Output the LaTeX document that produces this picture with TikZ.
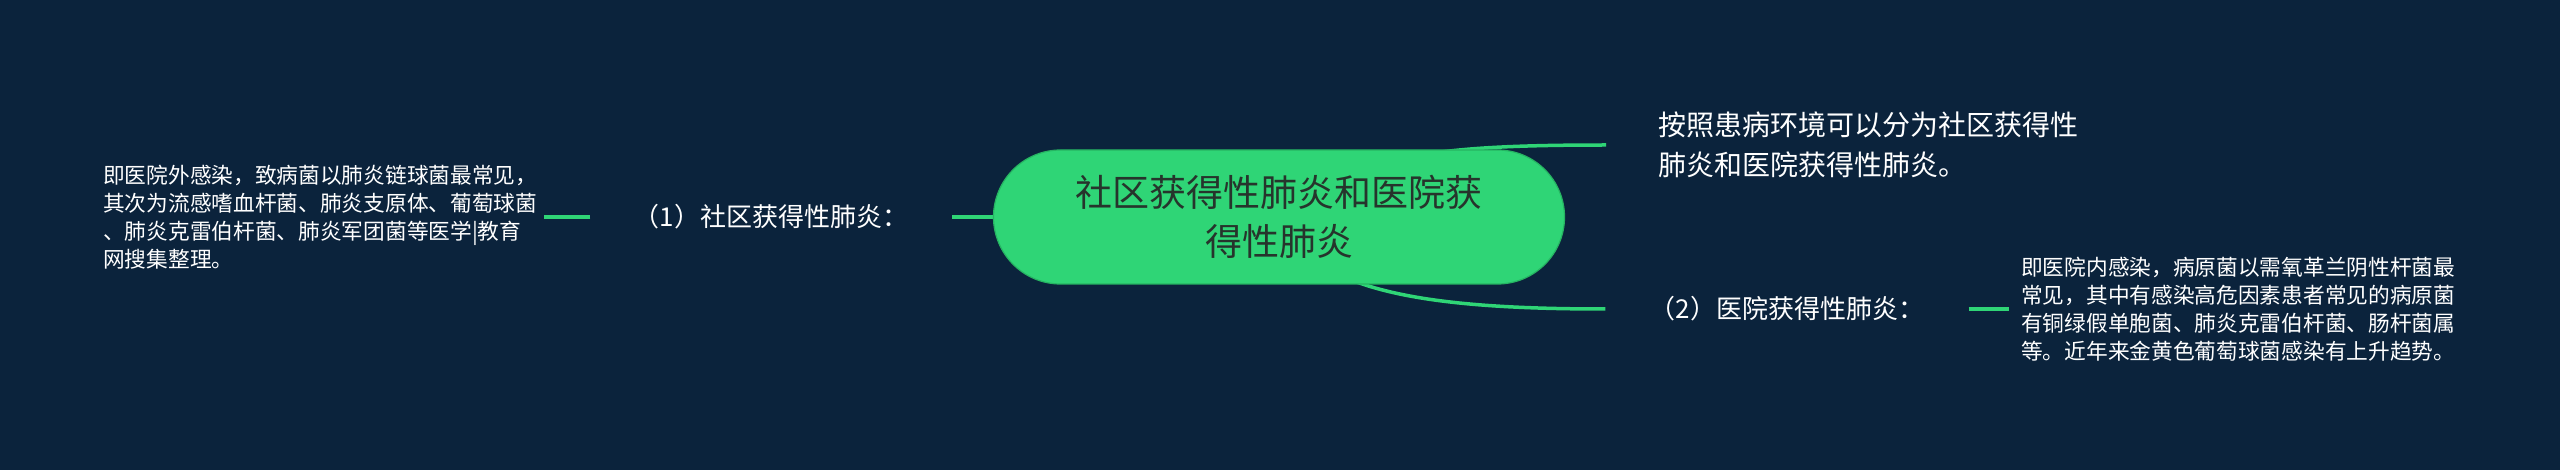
\documentclass[tikz,border=0pt]{standalone}
\usepackage{fontspec}
\setmainfont{Noto Sans CJK SC}
\usetikzlibrary{calc}
\definecolor{bgc}{RGB}{11,35,60}
\definecolor{grn}{RGB}{47,213,118}
\definecolor{grnd}{RGB}{38,180,98}
\definecolor{ctext}{RGB}{38,52,44}
\pgfdeclarelayer{bg}
\pgfsetlayers{bg,main}
\begin{document}
\begin{tikzpicture}[x=1pt,y=-1pt,
  conn/.style={draw=grn, line width=3.5pt},
  rootbox/.style={fill=grn, draw=grnd, line width=1.2pt, rounded corners=67pt, minimum width=571pt, minimum height=134pt, inner sep=0pt, align=center, text=ctext, font=\fontsize{37}{49}\selectfont},
  subtopic/.style={text=white, inner sep=0pt, font=\fontsize{26}{32}\selectfont},
  toptext/.style={text=white, inner ysep=0pt, align=left, font=\fontsize{28}{40}\selectfont},
  para/.style={text=white, inner ysep=0pt, align=left, font=\fontsize{21.7}{27.8}\selectfont}]
\useasboundingbox (0,0) rectangle (2560,470);
\node[rootbox] (root) at (1279,217) {社区获得性肺炎和医院获\\得性肺炎};
\node[subtopic, minimum width=361pt] (n1) at (771,217) {（1）社区获得性肺炎：};
\node[para, anchor=west, inner xsep=7pt] (p1) at (96,217) {即医院外感染，致病菌以肺炎链球菌最常见，\\其次为流感嗜血杆菌、肺炎支原体、葡萄球菌\\、肺炎克雷伯杆菌、肺炎军团菌等医学|教育\\网搜集整理。};
\node[toptext, anchor=west, inner xsep=52pt] (t1) at (1606,145) {按照患病环境可以分为社区获得性\\肺炎和医院获得性肺炎。};
\node[subtopic, minimum width=363pt] (n2) at (1787,309) {（2）医院获得性肺炎：};
\node[para, anchor=west, inner xsep=12pt] (p2) at (2009,309) {即医院内感染，病原菌以需氧革兰阴性杆菌最\\常见，其中有感染高危因素患者常见的病原菌\\有铜绿假单胞菌、肺炎克雷伯杆菌、肠杆菌属\\等。近年来金黄色葡萄球菌感染有上升趋势。};
\begin{pgfonlayer}{bg}
\fill[bgc] (0,0) rectangle (2560,470);
\draw[conn] (root.center) .. controls ($(root.center)+(90,-57)$) and ($(t1.west)+(-206,0)$) .. (t1.west);
\draw[conn] (root.center) .. controls ($(root.center)+(31,73)$) and ($(n2.west)+(-186,0)$) .. (n2.west);
\draw[conn] (root.west) -- (n1.east);
\draw[conn] (n1.west) -- (p1.east);
\draw[conn] (n2.east) -- (p2.west);
\end{pgfonlayer}
\end{tikzpicture}
\end{document}
